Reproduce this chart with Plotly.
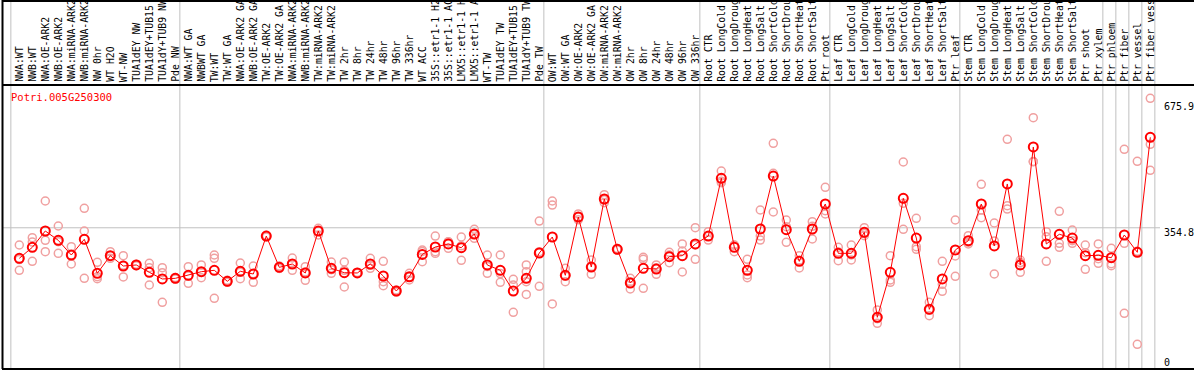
import plotly.graph_objects as go

title = "Potri.005G250300"

labels = [
    # group 1
    "NWA:WT", "NWB:WT", "NWA:OE-ARK2", "NWB:OE-ARK2", "NWA:miRNA-ARK2", "NWB:miRNA-ARK2",
    "NW 0hr", "WT H2O", "WT-NW", "TUA1dEY NW", "TUA1dEY+TUB15", "TUA1dY+TUB9 NW", "Pde NW",
    # group 2
    "NWA:WT GA", "NWBWT GA", "TW:WT", "TW:WT GA", "NWA:OE-ARK2 GA", "NWB:OE-ARK2 GA",
    "TW:OE-ARK2", "TW:OE-ARK2 GA", "NWA:miRNA-ARK2", "NWB:miRNA-ARK2", "TW:miRNA-ARK2",
    "TW:miRNA-ARK2", "TW 2hr", "TW 8hr", "TW 24hr", "TW 48hr", "TW 96hr", "TW 336hr",
    "WT ACC", "35S::etr1-1 H2", "35S::etr1-1 AC", "LMX5::etr1-1 H", "LMX5::etr1-1 A",
    "WT-TW", "TUA1dEY TW", "TUA1dEY+TUB15", "TUA1dY+TUB9 TW", "Pde TW",
    # group 3
    "OW:WT", "OW:WT GA", "OW:OE-ARK2", "OW:OE-ARK2 GA", "OW:miRNA-ARK2", "OW:miRNA-ARK2",
    "OW 2hr", "OW 8hr", "OW 24hr", "OW 48hr", "OW 96hr", "OW 336hr",
    # group 4
    "Root CTR", "Root LongCold", "Root LongDroug", "Root LongHeat", "Root LongSalt",
    "Root ShortCold", "Root ShortDrou", "Root ShortHeat", "Root ShortSalt", "Ptr root",
    # group 5
    "Leaf CTR", "Leaf LongCold", "Leaf LongDroug", "Leaf LongHeat", "Leaf LongSalt",
    "Leaf ShortCold", "Leaf ShortDrou", "Leaf ShortHeat", "Leaf ShortSalt", "Ptr leaf",
    # group 6
    "Stem CTR", "Stem LongCold", "Stem LongDroug", "Stem LongHeat", "Stem LongSalt",
    "Stem ShortCold", "Stem ShortDrou", "Stem ShortHeat", "Stem ShortSalt", "Ptr shoot",
    "Ptr xylem",
    # singles
    "Ptr phloem", "Ptr fiber", "Ptr vessel", "Ptr fiber vess",
]

group_sizes = [13, 28, 12, 10, 10, 11, 1, 1, 1, 1]

means = [
    277, 305, 346.6, 322.8, 285.4, 325.4, 238.8, 283.7, 257.4, 260,
    241.3, 224.3, 226, 233.7, 242.9, 246.4, 218.4, 243.9, 237, 333.8,
    254, 262.5, 239.6, 346.6, 251.5, 240.3, 239.6, 262.5, 231.9, 193.7,
    230, 287, 305.8, 313.5, 304, 338.9, 260, 246.4, 193.7, 226,
    290.5, 331.3, 233.7, 382.3, 254.8, 428.1, 299.9, 214.1, 251.5, 249.7,
    281.1, 283.7, 313.5, 333.8, 480.9, 305, 246.4, 351.7, 486.7, 350,
    269.3, 351.7, 415.4, 289.7, 289.7, 343.2, 126.6, 241.3, 429.8, 328.7,
    147, 224.3, 298.2, 321.9, 415.4, 308.4, 466.4, 260, 560.7, 313.5,
    338.2, 328.7, 283.7, 284.6, 278.5, 336.4, 292.3, 585.4,
]

replicates = [
    [310.9, 273.7, 246.4], [329.5, 318.5, 269.3], [423, 322.8, 293.9], [359.3, 319.4, 289.7],
    [306.6, 285.4, 262.5], [404.4, 346.6, 226], [266.8, 230.1, 225], [293.9, 283.7, 277],
    [283.7, 259.1, 229.4], [262, 260, 258], [264.3, 253.1, 209], [253.1, 240.3, 164.9],
    [228, 226, 224], [255.6, 232, 213.3], [260, 241, 227.6], [285.4, 277, 175.1],
    [221, 218, 216], [265, 241.7, 225], [257.4, 237.7, 215.9], [336, 333.8, 331.5],
    [257.4, 253.6, 251], [277.8, 263, 246.4], [255.6, 242, 221], [353.4, 346.6, 336.4],
    [267.6, 248, 238.8], [267.6, 246.4, 203.9], [241, 239.6, 239], [277, 259, 251.5],
    [269.3, 217.4, 207.2], [196, 193.7, 191], [238.8, 229.5, 221.7], [298.2, 294.4, 268.4],
    [333.8, 293.9, 289.7], [319.3, 318.7, 302.5], [331.3, 308.8, 271.9], [350.9, 337.8, 328],
    [285.4, 255.8, 238.8], [285.4, 238, 215.9], [223.5, 209, 139.4], [260, 242.9, 217.4, 185],
    [372, 294, 205.6], [423, 412.8, 160.6], [251.5, 232, 217.4], [390, 382, 375],
    [272.7, 255.5, 236.2], [439.1, 426.5, 418.7], [302, 300, 298], [226, 217.5, 198.8],
    [279.5, 274.5, 200.6], [260, 252.9, 236.2], [292.3, 285.2, 265.8], [313.5, 295.5, 242.1],
    [355, 311, 274.5], [344.8, 333, 323.6], [499.5, 473.5, 469.7], [310.9, 310.2, 293.9],
    [274.5, 234.5, 227.6], [400.1, 333.8, 323.6], [570.1, 493.6, 395], [374.6, 357.6, 317.8],
    [283.7, 271.9, 252.3], [370.3, 358.6, 326.2], [457.9, 398.4, 389.9], [305, 293.2, 270.9],
    [310.9, 285.5, 272.7], [355, 340, 334.6], [145.3, 123.1, 111.4], [283.7, 221.7, 215.9],
    [522.4, 417.2, 350.9], [378.9, 306.6, 299.9], [164.9, 145.4, 130.7], [269.3, 210.7, 192.9],
    [374.6, 282.9, 231.1], [334.6, 317.6, 313.5], [465.6, 400.1, 380.5], [367, 321.2, 237],
    [580.3, 411.1, 402.6], [272.7, 266, 241.3], [635.3, 523.6, 523.2], [344.8, 332, 269.3],
    [396.7, 315.2, 305], [349.1, 321.8, 315.2], [310.9, 291.2, 249], [313.5, 276, 264.3],
    [302.5, 263.3, 258.2], [554.8, 315.2, 136.9], [524.2, 295, 57.8], [684.8, 567.5, 501.3],
]

y_ticks = [0, 354.8, 675.9]

# ---------------- layout geometry (pixels) ----------------
W, H = 1194, 370
X0_PX, STEP_PX = 19.3, 13.0          # pixel of first category, spacing
Y0_PX, Y_SCALE = 367.0, 0.3924       # pixel of value 0, px per unit
HEADER_PX = 85                        # divider between labels and plot
BOTTOM_PX = 369
LEFT_PX = 2

def px_to_x(px):
    return (px - X0_PX) / STEP_PX

def px_to_y(py):
    return (Y0_PX - py) / Y_SCALE

xr = [px_to_x(0), px_to_x(W)]
yr = [px_to_y(H), px_to_y(0)]

n = len(labels)
xs = list(range(n))

LABEL_FONT = "DejaVu Sans Mono"
RED = "#ff0000"
PINK = "#f0a0a0"
GRID = "#c0c0c0"

fig = go.Figure()

rx, ry = [], []
for i, reps in enumerate(replicates):
    for v in reps:
        rx.append(i)
        ry.append(v)

fig.add_trace(go.Scatter(
    x=rx, y=ry, mode="markers",
    marker=dict(symbol="circle-open", size=8, color=PINK, line=dict(width=1.5, color=PINK)),
    hoverinfo="skip", showlegend=False,
))
fig.add_trace(go.Scatter(
    x=xs, y=means, mode="lines+markers",
    line=dict(color=RED, width=1),
    marker=dict(symbol="circle-open", size=9, color=RED, line=dict(width=2, color=RED)),
    showlegend=False,
))

shapes = []
start = 0
bounds = [0]
for g in group_sizes:
    start += g
    bounds.append(start)
for b in bounds:
    xb = b - 0.65
    shapes.append(dict(type="line", xref="x", yref="y", x0=xb, x1=xb,
                       y0=px_to_y(0), y1=px_to_y(BOTTOM_PX),
                       line=dict(color=GRID, width=1), layer="below"))
shapes.append(dict(type="line", xref="x", yref="y", x0=px_to_x(LEFT_PX), x1=px_to_x(1160),
                   y0=y_ticks[1], y1=y_ticks[1], line=dict(color=GRID, width=1), layer="below"))
for py in [1, HEADER_PX, BOTTOM_PX]:
    shapes.append(dict(type="line", xref="x", yref="y", x0=px_to_x(LEFT_PX), x1=px_to_x(W),
                       y0=px_to_y(py), y1=px_to_y(py), line=dict(color="black", width=2)))
shapes.append(dict(type="line", xref="x", yref="y", x0=px_to_x(LEFT_PX + 0.5), x1=px_to_x(LEFT_PX + 0.5),
                   y0=px_to_y(0), y1=px_to_y(BOTTOM_PX), line=dict(color="black", width=2)))

annotations = []
for i, lab in enumerate(labels):
    annotations.append(dict(
        x=i, y=px_to_y(HEADER_PX - 1), xref="x", yref="y", text=lab, showarrow=False,
        textangle=-90, xanchor="center", yanchor="bottom",
        font=dict(family=LABEL_FONT, size=9.8, color="black"),
    ))
annotations.append(dict(
    x=px_to_x(9), y=px_to_y(97), xref="x", yref="y", text=title, showarrow=False,
    xanchor="left", yanchor="middle", font=dict(family=LABEL_FONT, size=10.5, color=RED),
))
for v in y_ticks:
    py = Y0_PX - v * Y_SCALE + 5
    py = min(py, 362)
    annotations.append(dict(
        x=px_to_x(1162), y=px_to_y(py), xref="x", yref="y", text=str(v) if v else "0",
        showarrow=False, xanchor="left", yanchor="middle",
        font=dict(family=LABEL_FONT, size=10, color="black"),
    ))

fig.update_layout(
    width=W, height=H, margin=dict(l=0, r=0, t=0, b=0),
    paper_bgcolor="white", plot_bgcolor="white",
    xaxis=dict(range=xr, visible=False, fixedrange=True),
    yaxis=dict(range=yr, visible=False, fixedrange=True),
    shapes=shapes, annotations=annotations,
)

fig.write_html(
    "out.html",
    config={"displayModeBar": False},
    post_script="document.body.style.margin='0px';document.body.style.overflow='hidden';",
)
